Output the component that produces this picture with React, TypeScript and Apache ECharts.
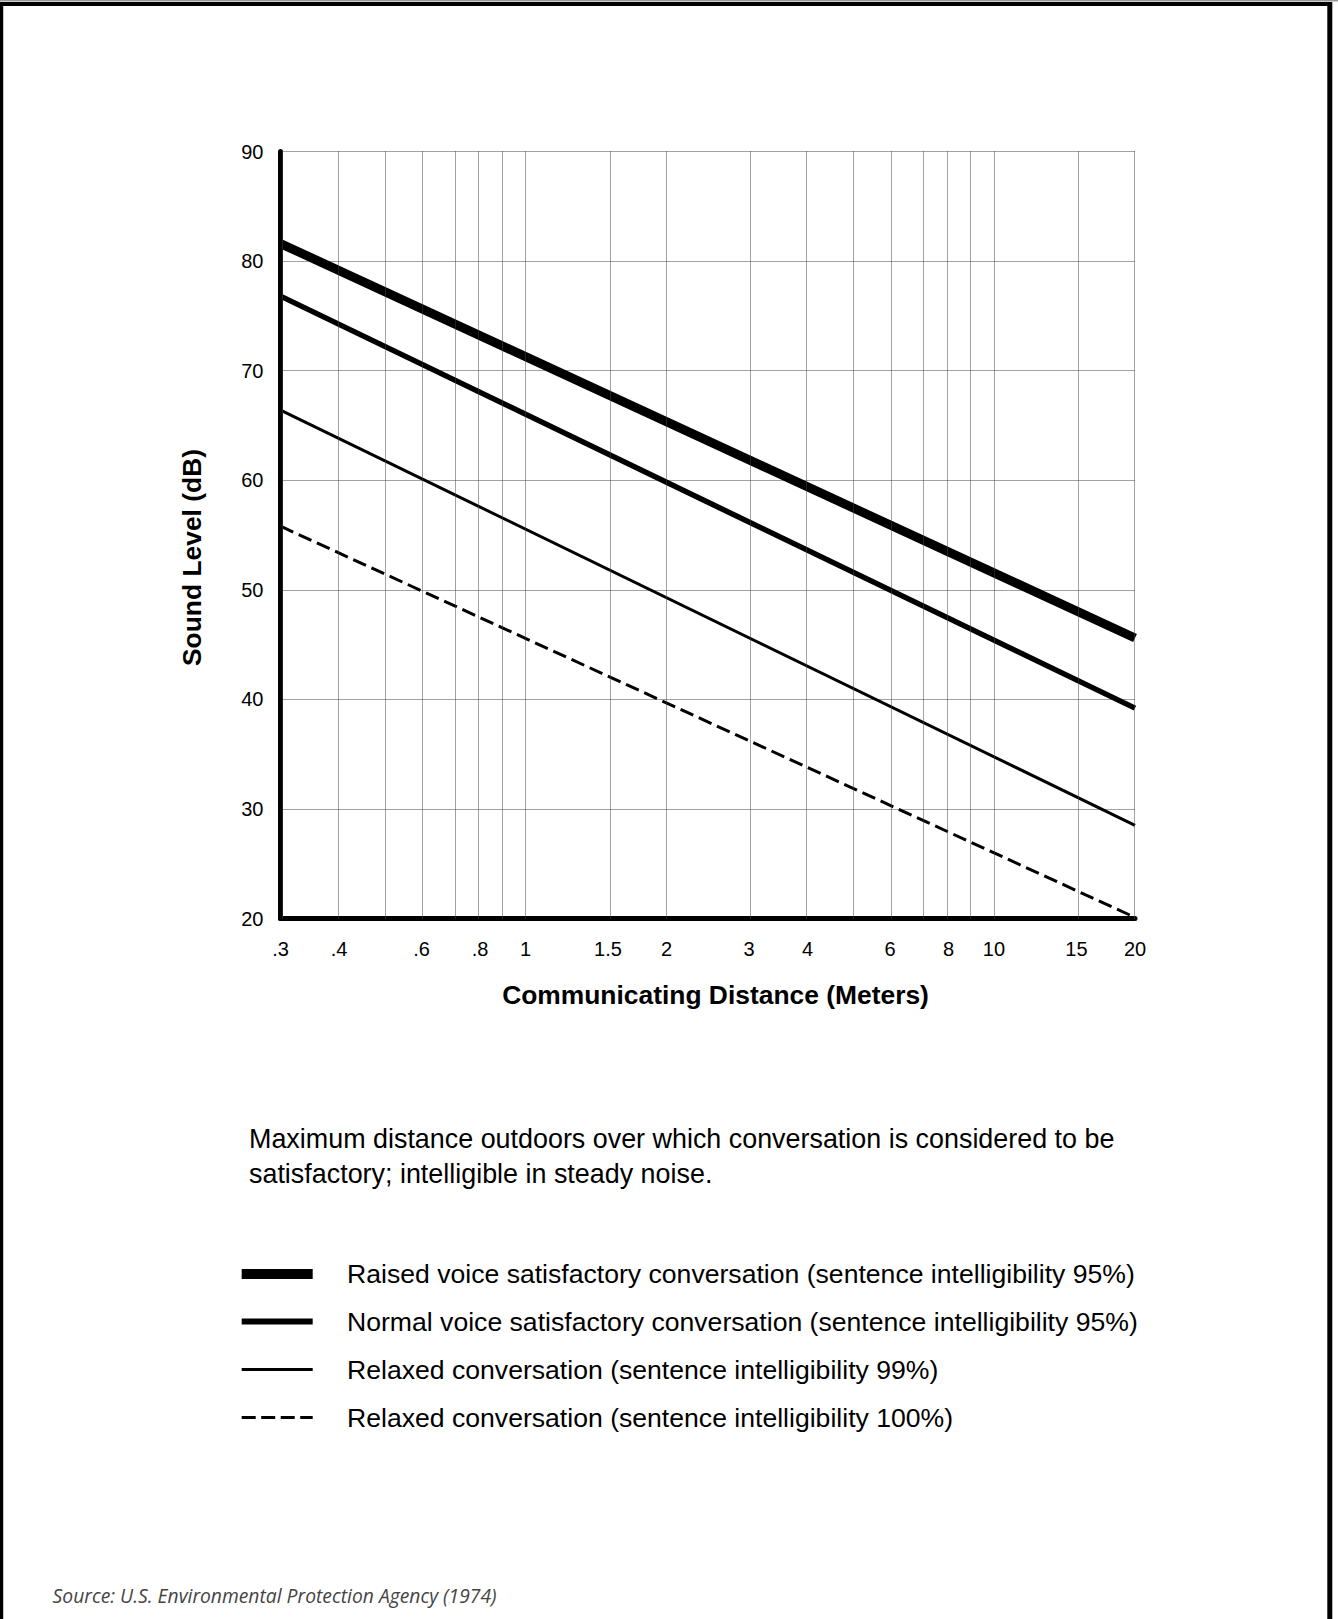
import React, { useEffect, useRef } from "react";
import * as echarts from "echarts";

// ---- data ----
const distances = [0.3, 20];
const raisedVoice = [81.6, 45.6];
const normalVoice = [76.8, 39.2];
const relaxed99 = [66.4, 28.5];
const relaxed100 = [55.8, 20.1];

const xGridValues = [0.3, 0.4, 0.5, 0.6, 0.7, 0.8, 0.9, 1, 1.5, 2, 3, 4, 5, 6, 7, 8, 9, 10, 15, 20];
const xTickValues = [0.3, 0.4, 0.6, 0.8, 1, 1.5, 2, 3, 4, 6, 8, 10, 15, 20];
const xTickLabels = [".3", ".4", ".6", ".8", "1", "1.5", "2", "3", "4", "6", "8", "10", "15", "20"];

const seriesNames = [
  "Raised voice satisfactory conversation (sentence intelligibility 95%)",
  "Normal voice satisfactory conversation (sentence intelligibility 95%)",
  "Relaxed conversation (sentence intelligibility 99%)",
  "Relaxed conversation (sentence intelligibility 100%)",
];
const captionLines = [
  "Maximum distance outdoors over which conversation is considered to be",
  "satisfactory; intelligible in steady noise.",
];
const sourceText = "Source: U.S. Environmental Protection Agency (1974)";

const FONT = "'Liberation Sans', Arial, Helvetica, sans-serif";
const GRID_COLOR = "#444";
const lg = (v: number) => Math.log10(v);

export default function App() {
  const ref = useRef<HTMLDivElement>(null);
  useEffect(() => {
    if (!ref.current) return;
    const chart = echarts.init(ref.current, null, { renderer: "svg" });

    const mk = (vals: number[]) => distances.map((d, i) => [lg(d), vals[i]]);
    const styles = [
      { width: 9, type: "solid" as any },
      { width: 5.5, type: "solid" as any },
      { width: 3, type: "solid" as any },
      { width: 3, type: [14, 6] as any },
    ];
    const allVals = [raisedVoice, normalVoice, relaxed99, relaxed100];

    const legendY = [1274, 1321.5, 1369.5, 1417.5];
    const legendW = [10, 6, 3, 3];
    const legendGraphics: any[] = [];
    seriesNames.forEach((name, i) => {
      legendGraphics.push({
        type: "line",
        shape: { x1: 241.7, y1: legendY[i], x2: 312.7, y2: legendY[i] },
        style: {
          stroke: "#000",
          lineWidth: legendW[i],
          lineDash: i === 3 ? [14, 5.5] : null,
        },
      });
      legendGraphics.push({
        type: "text",
        x: 347,
        y: legendY[i],
        style: {
          text: name,
          fill: "#000",
          font: `26.6px ${FONT}`,
          align: "left",
          verticalAlign: "middle",
        },
      });
    });

    const option: any = {
      animation: false,
      backgroundColor: "#fff",
      grid: { left: 280.5, top: 151.5, width: 854.5, height: 767 },
      xAxis: {
        type: "value",
        min: lg(0.3),
        max: lg(20),
        axisLine: { show: true, onZero: false, lineStyle: { color: "#000", width: 5 } },
        axisTick: { show: false },
        splitLine: { show: false },
        axisLabel: {
          customValues: xTickValues.map(lg),
          margin: 20,
          fontSize: 20,
          fontFamily: FONT,
          color: "#000",
          formatter: (v: number) => {
            const idx = xTickValues.findIndex((t) => Math.abs(lg(t) - v) < 1e-6);
            return idx >= 0 ? xTickLabels[idx] : "";
          },
        },
      },
      yAxis: {
        type: "value",
        min: 20,
        max: 90,
        interval: 10,
        axisLine: { show: true, onZero: false, lineStyle: { color: "#000", width: 5 } },
        axisTick: { show: false },
        splitLine: { show: true, lineStyle: { color: GRID_COLOR, width: 1, type: [1, 1] } },
        axisLabel: { margin: 17, fontSize: 20, fontFamily: FONT, color: "#000" },
      },
      series: [
        {
          type: "line",
          data: [],
          silent: true,
          markLine: {
            silent: true,
            symbol: "none",
            label: { show: false },
            lineStyle: { color: GRID_COLOR, width: 1, type: [1, 1] },
            data: xGridValues.map((v) => ({ xAxis: lg(v) })),
          },
          z: 1,
        },
        ...allVals.map((vals, i) => ({
          name: seriesNames[i],
          type: "line",
          data: mk(vals),
          showSymbol: false,
          symbol: "none",
          silent: true,
          clip: false,
          lineStyle: { color: "#000", width: styles[i].width, type: styles[i].type, cap: "butt" },
          z: 3,
        })),
      ],
      graphic: [
        // frame
        { type: "line", shape: { x1: 0, y1: 0.8, x2: 1338, y2: 0.8 }, style: { stroke: "#999", lineWidth: 1.6 } },
        { type: "line", shape: { x1: 0, y1: 4, x2: 1332, y2: 4 }, style: { stroke: "#000", lineWidth: 4 } },
        { type: "line", shape: { x1: 1.6, y1: 2, x2: 1.6, y2: 1619 }, style: { stroke: "#000", lineWidth: 3.2 } },
        { type: "line", shape: { x1: 1329.8, y1: 2, x2: 1329.8, y2: 1619 }, style: { stroke: "#000", lineWidth: 5 } },
        // axis titles
        {
          type: "text",
          x: 715.5,
          y: 995,
          style: {
            text: "Communicating Distance (Meters)",
            fill: "#000",
            font: `bold 26.4px ${FONT}`,
            align: "center",
            verticalAlign: "middle",
          },
        },
        {
          type: "text",
          x: 192,
          y: 557.5,
          rotation: Math.PI / 2,
          style: {
            text: "Sound Level (dB)",
            fill: "#000",
            font: `bold 26.4px ${FONT}`,
            align: "center",
            verticalAlign: "middle",
          },
        },
        // caption
        {
          type: "text",
          x: 249,
          y: 1138.5,
          style: { text: captionLines[0], fill: "#000", font: `26.9px ${FONT}`, align: "left", verticalAlign: "middle" },
        },
        {
          type: "text",
          x: 249,
          y: 1173.5,
          style: { text: captionLines[1], fill: "#000", font: `26.9px ${FONT}`, align: "left", verticalAlign: "middle" },
        },
        ...legendGraphics,
        // source
        {
          type: "text",
          x: 52.6,
          y: 1595,
          style: {
            text: sourceText,
            fill: "#444",
            font: `italic 19.3px 'Open Sans', 'Noto Sans', sans-serif`,
            align: "left",
            verticalAlign: "middle",
          },
        },
      ],
    };
    chart.setOption(option);
    return () => chart.dispose();
  }, []);
  return (
    <div
      ref={ref}
      style={{ position: "absolute", left: 0, top: 0, width: 1338, height: 1619, background: "#fff" }}
    />
  );
}
